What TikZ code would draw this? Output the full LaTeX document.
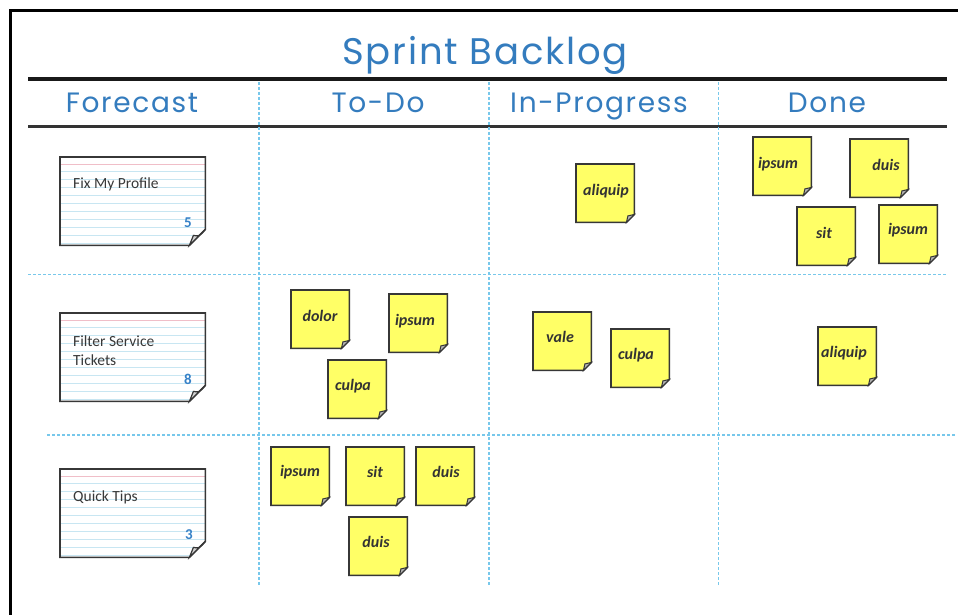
\documentclass[tikz,border=0pt]{standalone}
\usepackage{fontspec}
\setmainfont{Carlito}
\newfontfamily\handtitle[LetterSpace=5]{Poppins}
\newfontfamily\handhead[LetterSpace=6]{Poppins}
\definecolor{hblue}{RGB}{52,124,190}
\definecolor{gridblue}{RGB}{120,200,235}
\definecolor{cardline}{RGB}{200,230,242}
\definecolor{cardred}{RGB}{240,190,200}
\definecolor{stickyfill}{RGB}{255,255,102}
\definecolor{edge}{RGB}{55,55,55}
\definecolor{numblue}{RGB}{55,130,200}
\tikzset{
  titletext/.style={font=\handtitle\fontsize{37}{37}\selectfont, text=hblue, inner sep=0, anchor=base},
  headtext/.style={font=\handhead\fontsize{28}{28}\selectfont, text=hblue, inner sep=0, anchor=base},
  grid/.style={draw=gridblue, line width=1.6pt, dash pattern=on 3pt off 2pt},
  stickybox/.style={minimum width=58pt, minimum height=58pt, inner sep=0, anchor=north west},
  stickyline/.style={fill=stickyfill, draw=edge, line width=1.6pt, line join=miter},
  foldline/.style={fill=gray!60, draw=edge, line width=1pt},
  stickytext/.style={font=\bfseries\itshape\fontsize{16}{16}\selectfont, text=black!80, inner sep=0},
  cardbox/.style={minimum width=145pt, minimum height=88pt, inner sep=0, anchor=north west},
  cardedge/.style={draw=edge, line width=1.6pt},
  cardtext/.style={font=\fontsize{15.5}{19}\selectfont, text=black!78, inner sep=0, anchor=west, align=left},
  numtext/.style={font=\bfseries\fontsize{15}{15}\selectfont, text=numblue, inner sep=0},
}
\newcommand\stickynote[6]{%
  \node[stickybox] (#1) at (#2,#3) {};
  \filldraw[stickyline] (#1.north west) -- (#1.north east) -- ([yshift=8pt]#1.south east)
     -- ([xshift=-8pt]#1.south east) -- (#1.south west) -- cycle;
  \filldraw[foldline] ([yshift=8pt]#1.south east) -- ([xshift=-8pt]#1.south east)
     -- ([xshift=-6.5pt,yshift=6.5pt]#1.south east) -- cycle;
  \node[stickytext] (#1-t) at (#5,#6) {#4};
}
\newcommand\indexcard[3]{%
  \node[cardbox] (#1) at (#2,#3) {};
  \fill[white] (#1.north west) -- (#1.north east) -- ([yshift=16pt]#1.south east)
     -- ([xshift=-16pt]#1.south east) -- (#1.south west) -- cycle;
  \begin{scope}
    \clip (#1.north west) -- (#1.north east) -- ([yshift=16pt]#1.south east)
     -- ([xshift=-16pt]#1.south east) -- (#1.south west) -- cycle;
    \foreach \k in {0,...,9} \draw[cardline, line width=0.9pt] (#2,{#3+14+\k*8}) -- ++(145,0);
    \draw[cardred, line width=1pt] (#2,#3+7) -- ++(145,0);
  \end{scope}
  \draw[cardedge, line join=miter] (#1.north west) -- (#1.north east) -- ([yshift=16pt]#1.south east)
     -- ([xshift=-16pt]#1.south east) -- (#1.south west) -- cycle;
  \filldraw[fill=gray!35, draw=edge, line width=1.2pt] ([yshift=16pt]#1.south east)
     .. controls ([xshift=-6pt,yshift=9pt]#1.south east) .. ([xshift=-12pt,yshift=10pt]#1.south east)
     -- ([xshift=-16pt]#1.south east) -- cycle;
}
\begin{document}
\begin{tikzpicture}[x=1pt,y=-1pt]
\useasboundingbox (0,0) rectangle (958,615);
\fill[white] (0,0) rectangle (958,615);
% frame
\coordinate (fb) at (10.5,615);
\coordinate (ftl) at (10.5,10.5);
\coordinate (ftr) at (958,10.5);
\draw[line width=2.6pt] (fb) -- (ftl) -- (ftr);
% title
\node[titletext] (title) at (485,65) {Sprint Backlog};
% rules
\coordinate (r1a) at (28,79); \coordinate (r1b) at (947,79);
\coordinate (r2a) at (28,126.5); \coordinate (r2b) at (947,126.5);
\draw[line width=4pt, black!90] (r1a) -- (r1b);
\draw[line width=2.6pt, black!80] (r2a) -- (r2b);
% headers
\node[headtext] (h1) at (132,113) {Forecast};
\node[headtext] (h2) at (378,113) {To-Do};
\node[headtext] (h3) at (599,113) {In-Progress};
\node[headtext] (h4) at (827,113) {Done};
% grid lines
\coordinate (v1a) at (259,82); \coordinate (v1b) at (259,585);
\coordinate (v2a) at (489,82); \coordinate (v2b) at (489,585);
\coordinate (v3a) at (718.5,82); \coordinate (v3b) at (718.5,585);
\coordinate (g1a) at (28,274.5); \coordinate (g1b) at (947,274.5);
\coordinate (g2a) at (47,435); \coordinate (g2b) at (955,435);
\draw[grid] (v1a) -- (v1b);
\draw[grid] (v2a) -- (v2b);
\draw[grid] (v3a) -- (v3b);
\draw[grid] (g1a) -- (g1b);
\draw[grid] (g2a) -- (g2b);
% index cards
\indexcard{c1}{60}{157}
\node[cardtext] (c1-t) at (73,184) {Fix My Profile};
\node[numtext] (c1-n) at (188,223) {5};
\indexcard{c2}{60}{313}
\node[cardtext] (c2-t) at (73,351) {Filter Service\\Tickets};
\node[numtext] (c2-n) at (188,379) {8};
\indexcard{c3}{60}{469}
\node[cardtext] (c3-t) at (73,497) {Quick Tips};
\node[numtext] (c3-n) at (189,535) {3};
% sticky notes row 1
\stickynote{s1}{576}{164}{aliquip}{606}{191}
\stickynote{s2}{753}{137}{ipsum}{778}{164}
\stickynote{s3}{850}{139}{duis}{886}{165}
\stickynote{s4}{797}{207}{sit}{824}{233}
\stickynote{s5}{879}{205}{ipsum}{908}{230}
% row 2
\stickynote{s6}{291}{290}{dolor}{320}{316}
\stickynote{s7}{389}{294}{ipsum}{415}{321}
\stickynote{s8}{328}{360}{culpa}{353}{386}
\stickynote{s9}{533}{312}{vale}{560}{337}
\stickynote{s10}{611}{329}{culpa}{636}{355}
\stickynote{s11}{818}{327}{aliquip}{844}{353}
% row 3
\stickynote{s12}{271}{447}{ipsum}{300}{472}
\stickynote{s13}{346}{447}{sit}{375}{472}
\stickynote{s14}{416}{447}{duis}{446}{472}
\stickynote{s15}{349}{517}{duis}{376}{542}
\end{tikzpicture}
\end{document}
